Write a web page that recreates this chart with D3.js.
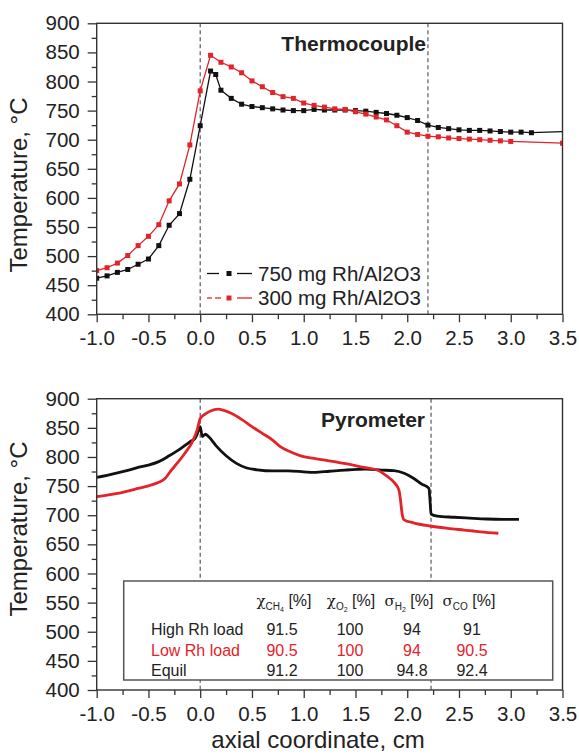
<!DOCTYPE html>
<html>
<head>
<meta charset="utf-8">
<script src="https://cdn.jsdelivr.net/npm/d3@7"></script>
<style>
  body { margin: 0; background: #fff; }
  text { font-family: 'Liberation Sans', Arial, sans-serif; fill: #222; }
</style>
</head>
<body>
<script>
// Thermocouple profiles (top panel)
let tcX750 = [-1.0, -0.9, -0.8, -0.7, -0.6, -0.5, -0.4, -0.3, -0.2, -0.1, 0.0, 0.1, 0.15, 0.2, 0.3, 0.4, 0.5, 0.6, 0.7, 0.8, 0.9, 1.0,
  1.1, 1.2, 1.3, 1.4, 1.5, 1.6, 1.7, 1.8, 1.9, 2.0, 2.1, 2.2, 2.3, 2.4, 2.5, 2.6, 2.7, 2.8, 2.9, 3.0, 3.1, 3.2, 3.5];
let tcT750 = [462, 466, 472, 477, 486, 495, 518, 553, 573, 632, 724, 818, 812, 785, 771, 761, 757, 755, 753, 751, 750, 750,
  752, 751, 751, 751, 750, 749, 747, 745, 742, 738, 733, 725, 721, 719, 717, 716, 716, 715, 714, 713, 713, 712, 714];
let tcX300 = [-1.0, -0.9, -0.8, -0.7, -0.6, -0.5, -0.4, -0.3, -0.2, -0.1, 0.0, 0.1, 0.2, 0.3, 0.4, 0.5, 0.6, 0.7, 0.8, 0.9, 1.0,
  1.1, 1.2, 1.3, 1.4, 1.5, 1.6, 1.7, 1.8, 1.9, 2.0, 2.1, 2.2, 2.3, 2.4, 2.5, 2.6, 2.7, 2.8, 2.9, 3.0, 3.5];
let tcT300 = [475, 480, 488, 501, 518, 534, 554, 595, 624, 691, 784, 845, 833, 825, 815, 801, 791, 781, 774, 771, 763,
  759, 756, 753, 752, 748, 744, 739, 734, 724, 713, 709, 706, 705, 703, 702, 701, 700, 699, 698, 697, 694];
// how many points of each series carry a marker (the rest is a plain tail)
let tcMarked750 = 44;
let tcMarked300 = 42;

// Pyrometer profiles (bottom panel)
let pyXHigh = [-1.0, -0.9, -0.8, -0.7, -0.6, -0.5, -0.4, -0.3, -0.2, -0.1, -0.05, -0.01, 0.0, 0.02, 0.05, 0.08, 0.15, 0.25, 0.35,
  0.45, 0.55, 0.7, 0.85, 1.0, 1.1, 1.25, 1.4, 1.6, 1.75, 1.87, 1.97, 2.06, 2.14, 2.21, 2.22, 2.23, 2.29, 2.45, 2.6, 2.77, 2.93, 3.08];
let pyTHigh = [765, 768.5, 772.5, 777, 782, 786, 792, 802, 813, 826, 832, 848, 852, 835, 839, 835, 820, 802, 789,
  781, 778, 776, 776, 774.5, 773.5, 775.5, 777.5, 779, 777.5, 776.5, 772, 763.5, 753.5, 746, 726, 702, 698.5, 696.5, 695, 693.5, 693, 693];
let pyXLow = [-1.0, -0.9, -0.8, -0.7, -0.6, -0.5, -0.4, -0.34, -0.28, -0.21, -0.15, -0.08, -0.03, 0.0, 0.05, 0.1, 0.17, 0.22, 0.3,
  0.4, 0.5, 0.6, 0.7, 0.77, 0.87, 0.97, 1.1, 1.26, 1.42, 1.58, 1.71, 1.8, 1.88, 1.92, 1.935, 1.95, 1.97, 2.06, 2.22, 2.39, 2.55, 2.71, 2.88];
let pyTLow = [732, 734.5, 737.5, 741.5, 746, 750.5, 756.5, 763, 777, 792, 806, 824.5, 846, 866, 874, 879, 882, 880.5, 875,
  864.5, 852, 840.5, 829, 818, 809, 802, 797.5, 793, 788, 782, 777.5, 767.5, 755, 743, 726, 703, 692, 687, 681.5, 677.5, 674.5, 671.5, 669];

// Axis ticks
let xTicks = [-1.0, -0.5, 0.0, 0.5, 1.0, 1.5, 2.0, 2.5, 3.0, 3.5];
let xMinor = [-0.75, -0.25, 0.25, 0.75, 1.25, 1.75, 2.25, 2.75, 3.25];
let yTicks = [400, 450, 500, 550, 600, 650, 700, 750, 800, 850, 900];
let yMinor = [425, 475, 525, 575, 625, 675, 725, 775, 825, 875];

// Legend and table text
let legendNames = ['750 mg Rh/Al2O3', '300 mg Rh/Al2O3'];
let tableHeads = [['χ', 'CH', '4'], ['χ', 'O', '2'], ['σ', 'H', '2'], ['σ', 'CO', '']];
let tableRows = ['High Rh load', 'Low Rh load', 'Equil'];
let tableVals = [
  ['91.5', '100', '94', '91'],
  ['90.5', '100', '94', '90.5'],
  ['91.2', '100', '94.8', '92.4']
];

let red = '#e3232a', black = '#111';

let width = 579, height = 755;
let left = 96.7, right = 562.5;

let svg = d3.select('body')
  .append('svg')
  .attr('width', width)
  .attr('height', height);

let x = d3.scaleLinear().domain([-1, 3.5]).range([left, right]);

function panel(top, bottom, id) {
  let y = d3.scaleLinear().domain([400, 900]).range([bottom, top]);
  let g = svg.append('g');

  g.append('clipPath').attr('id', id)
    .append('rect')
    .attr('x', left).attr('y', top)
    .attr('width', right - left).attr('height', bottom - top);

  // x axis
  g.append('g')
    .attr('transform', `translate(0,${bottom})`)
    .call(d3.axisBottom(x).tickValues(xTicks).tickSize(8).tickPadding(8).tickFormat(d => d.toFixed(1)))
    .call(a => a.select('.domain').remove())
    .call(a => a.selectAll('text').style('font-size', '20.5px').attr('fill', '#222'));
  g.append('g')
    .attr('transform', `translate(0,${bottom})`)
    .call(d3.axisBottom(x).tickValues(xMinor).tickSize(5).tickFormat(''))
    .call(a => a.select('.domain').remove());

  // y axis
  g.append('g')
    .attr('transform', `translate(${left},0)`)
    .call(d3.axisLeft(y).tickValues(yTicks).tickSize(9).tickPadding(8))
    .call(a => a.select('.domain').remove())
    .call(a => a.selectAll('text').style('font-size', '20.5px').attr('fill', '#222'));
  g.append('g')
    .attr('transform', `translate(${left},0)`)
    .call(d3.axisLeft(y).tickValues(yMinor).tickSize(5).tickFormat(''))
    .call(a => a.select('.domain').remove());

  g.selectAll('.tick line').attr('stroke', '#333').attr('stroke-width', 1.3);

  let plot = g.append('g').attr('clip-path', `url(#${id})`);

  return { g, plot, y, top, bottom };
}

function frame(p) {
  p.g.append('rect')
    .attr('x', left).attr('y', p.top)
    .attr('width', right - left).attr('height', p.bottom - p.top)
    .attr('fill', 'none').attr('stroke', '#333').attr('stroke-width', 1.4);
}

function vlines(p, xs) {
  p.plot.selectAll('.vl')
    .data(xs)
    .enter()
    .append('line')
    .attr('x1', d => x(d)).attr('x2', d => x(d))
    .attr('y1', p.top).attr('y2', p.bottom)
    .attr('stroke', '#666').attr('stroke-width', 1.3)
    .attr('stroke-dasharray', '4,3');
}

function yTitle(cy) {
  svg.append('text')
    .attr('transform', `translate(27,${cy}) rotate(-90)`)
    .attr('text-anchor', 'middle')
    .style('font-size', '24px')
    .text('Temperature, °C');
}

// ---------- top panel: thermocouple ----------
let p1 = panel(23.3, 314.3, 'clipTop');
vlines(p1, [0, 2.2]);

let tcSeries = [
  { xs: tcX750, ys: tcT750, n: tcMarked750, color: black },
  { xs: tcX300, ys: tcT300, n: tcMarked300, color: red }
];

tcSeries.forEach(s => {
  let pts = s.xs.map((v, i) => [v, s.ys[i]]);
  let line = d3.line().x(d => x(d[0])).y(d => p1.y(d[1]));
  p1.plot.append('path')
    .attr('d', line(pts))
    .attr('fill', 'none')
    .attr('stroke', s.color)
    .attr('stroke-width', 1.3);
  p1.plot.selectAll(null)
    .data(pts.slice(0, s.n))
    .enter()
    .append('rect')
    .attr('x', d => x(d[0]) - 2.5)
    .attr('y', d => p1.y(d[1]) - 2.5)
    .attr('width', 5).attr('height', 5)
    .attr('fill', s.color);
});
frame(p1);

svg.append('text')
  .attr('x', 426).attr('y', 50.5)
  .attr('text-anchor', 'end')
  .style('font-size', '21px').style('font-weight', 'bold')
  .text('Thermocouple');

// legend
let legY = [273.5, 298];
tcSeries.forEach((s, i) => {
  let ly = legY[i];
  let segs = i === 0 ? [[207, 219], [237, 252]] : [[207, 212], [215, 221], [237, 252]];
  segs.forEach(sg => {
    svg.append('line')
      .attr('x1', sg[0]).attr('x2', sg[1]).attr('y1', ly).attr('y2', ly)
      .attr('stroke', s.color).attr('stroke-width', 1.3);
  });
  svg.append('rect')
    .attr('x', 226.5).attr('y', ly - 2.5).attr('width', 5).attr('height', 5)
    .attr('fill', s.color);
  svg.append('text')
    .attr('x', 258).attr('y', ly + 7)
    .style('font-size', '20.5px')
    .text(legendNames[i]);
});

yTitle(185);

// ---------- bottom panel: pyrometer ----------
let p2 = panel(398.7, 690, 'clipBot');
vlines(p2, [0, 2.23]);

let pySeries = [
  { xs: pyXHigh, ys: pyTHigh, color: black },
  { xs: pyXLow, ys: pyTLow, color: red }
];

pySeries.forEach(s => {
  let pts = s.xs.map((v, i) => [v, s.ys[i]]);
  let line = d3.line().x(d => x(d[0])).y(d => p2.y(d[1])).curve(d3.curveMonotoneX);
  p2.plot.append('path')
    .attr('d', line(pts))
    .attr('fill', 'none')
    .attr('stroke', s.color)
    .attr('stroke-width', 2.8)
    .attr('stroke-linejoin', 'round');
});

// table box
p2.g.append('rect')
  .attr('x', 123.7).attr('y', 581)
  .attr('width', 429).attr('height', 99)
  .attr('fill', '#fff').attr('stroke', '#555').attr('stroke-width', 1.5);

let headX = [284, 351, 409, 469];
let colX = [282, 350, 412, 472];
let rowY = [635, 656, 676];

tableHeads.forEach((h, i) => {
  let t = svg.append('text')
    .attr('x', headX[i]).attr('y', 606)
    .attr('text-anchor', 'middle')
    .style('font-size', '16px');
  t.append('tspan').style('font-family', "'DejaVu Serif', serif").style('font-size', '15px').text(h[0]);
  t.append('tspan').attr('dy', 4).style('font-size', '10px').text(h[1]);
  if (h[2]) t.append('tspan').attr('dy', 2).style('font-size', '7px').text(h[2]);
  t.append('tspan').attr('dy', h[2] ? -6 : -4).text(' [%]');
});

tableRows.forEach((r, i) => {
  let c = i === 1 ? red : '#222';
  svg.append('text')
    .attr('x', 151).attr('y', rowY[i])
    .style('font-size', '16px')
    .style('fill', c)
    .text(r);
  tableVals[i].forEach((v, j) => {
    svg.append('text')
      .attr('x', colX[j]).attr('y', rowY[i])
      .attr('text-anchor', 'middle')
      .style('font-size', '16px')
      .style('fill', c)
      .text(v);
  });
});

frame(p2);

svg.append('text')
  .attr('x', 425).attr('y', 427)
  .attr('text-anchor', 'end')
  .style('font-size', '21px').style('font-weight', 'bold')
  .text('Pyrometer');

yTitle(529);

svg.append('text')
  .attr('x', 318).attr('y', 748)
  .attr('text-anchor', 'middle')
  .style('font-size', '24px')
  .text('axial coordinate, cm');
</script>
</body>
</html>
